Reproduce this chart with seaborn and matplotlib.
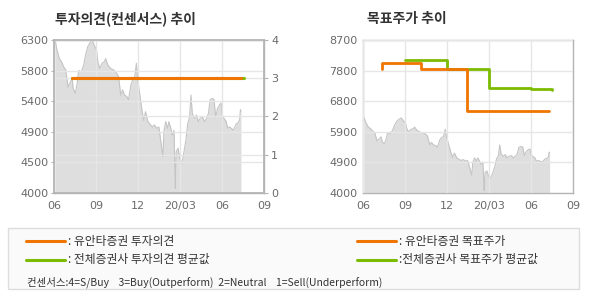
import matplotlib
matplotlib.use("Agg")
import matplotlib.pyplot as plt
from matplotlib.patches import Rectangle
from matplotlib.lines import Line2D
import numpy as np
import pandas as pd
import seaborn as sns

# ---------------- data ----------------
price_dates = [
    "2019-06-03", "2019-06-06", "2019-06-12", "2019-06-17", "2019-06-21", "2019-06-26",
    "2019-07-01", "2019-07-05", "2019-07-10", "2019-07-12", "2019-07-17", "2019-07-21",
    "2019-07-24", "2019-07-30", "2019-08-04", "2019-08-08", "2019-08-13", "2019-08-18",
    "2019-08-23", "2019-08-27", "2019-09-01", "2019-09-04", "2019-09-08", "2019-09-13",
    "2019-09-18", "2019-09-21", "2019-09-26", "2019-10-02", "2019-10-08", "2019-10-13",
    "2019-10-19", "2019-10-24", "2019-10-28", "2019-11-01", "2019-11-06", "2019-11-10",
    "2019-11-15", "2019-11-19", "2019-11-23", "2019-11-27", "2019-11-30", "2019-12-04",
    "2019-12-09", "2019-12-13", "2019-12-17", "2019-12-22", "2019-12-28", "2020-01-01",
    "2020-01-05", "2020-01-11", "2020-01-15", "2020-01-20", "2020-01-24", "2020-01-26",
    "2020-01-30", "2020-02-03", "2020-02-06", "2020-02-10", "2020-02-13", "2020-02-17",
    "2020-02-19", "2020-02-20", "2020-02-22", "2020-02-26", "2020-03-01", "2020-03-04",
    "2020-03-08", "2020-03-14", "2020-03-18", "2020-03-22", "2020-03-25", "2020-03-28",
    "2020-04-02", "2020-04-06", "2020-04-10", "2020-04-14", "2020-04-19", "2020-04-24",
    "2020-04-28", "2020-05-02", "2020-05-06", "2020-05-10", "2020-05-14", "2020-05-18",
    "2020-05-22", "2020-05-26", "2020-05-30", "2020-06-01", "2020-06-05", "2020-06-10",
    "2020-06-13", "2020-06-17", "2020-06-21", "2020-06-25", "2020-06-29", "2020-07-02",
    "2020-07-05", "2020-07-09", "2020-07-11", "2020-07-12",
]
price_values = [
    6300, 6170, 6020, 5970, 5900, 5850,
    5590, 5650, 5720, 5570, 5500, 5650,
    5840, 5820, 5920, 6070, 6200, 6260,
    6300, 6220, 6150, 5970, 5870, 5950,
    5970, 6020, 5920, 5870, 5850, 5820,
    5750, 5470, 5550, 5470, 5450, 5400,
    5620, 5700, 5720, 5950, 5700, 5500,
    5250, 5090, 5220, 5070, 5020, 4990,
    5020, 4970, 4990, 4740, 4540, 4920,
    5070, 4970, 5070, 4970, 4870, 4940,
    4390, 4065, 4620, 4670, 4490, 4440,
    4540, 4790, 5040, 5140, 5470, 5190,
    5120, 5170, 5070, 5120, 5140, 5070,
    5120, 5190, 5400, 5420, 5410, 5140,
    5270, 5320, 5350, 5170, 5120, 5070,
    4970, 4990, 4970, 4940, 4990, 5040,
    5050, 5090, 5250, 5230,
]

# investment opinion (consensus scale 0-4)
op_own_dates = ["2019-07-10", "2020-07-12"]
op_own_values = [3, 3]
op_avg_dates = ["2019-07-10", "2020-07-19"]
op_avg_values = [3, 3]

# target prices (step lines)
tp_own_dates = ["2019-07-11", "2019-07-11", "2019-10-05", "2020-01-13", "2020-07-10"]
tp_own_values = [7800, 8000, 7800, 6500, 6500]
tp_avg_dates = ["2019-09-01", "2019-12-01", "2020-03-01", "2020-06-01", "2020-07-17", "2020-07-17"]
tp_avg_values = [8070, 7800, 7230, 7200, 7200, 7160]

x_ticks = ["2019-06-01", "2019-09-01", "2019-12-01", "2020-03-01", "2020-06-01", "2020-09-01"]
x_tick_labels = ["06", "09", "12", "20/03", "06", "09"]

left_ylim = (4000, 6300)
left_tick_labels = ["4000", "4500", "4900", "5400", "5800", "6300"]
opinion_ticks = [0, 1, 2, 3, 4]
right_ylim = (4000, 8700)
right_tick_labels = ["4000", "4900", "5900", "6800", "7800", "8700"]

title_left = "투자의견(컨센서스) 추이"
title_right = "목표주가 추이"
legend_labels = [": 유안타증권 투자의견", ": 전체증권사 투자의견 평균값",
                 ": 유안타증권 목표주가", ":전체증권사 목표주가 평균값"]
consensus_text = "컨센서스:4=S/Buy    3=Buy(Outperform)  2=Neutral    1=Sell(Underperform)"

# ---------------- style ----------------
sns.set_theme(style="white")
plt.rcParams['font.family'] = ['Noto Sans CJK KR', 'DejaVu Sans']

ORANGE = "#f07400"
GREEN = "#7cbb00"
FILL = "#dedede"
PLINE = "#c4c4c4"
GRID = "#e6e6e6"
SPINE = "#b4b4b4"
TICKC = "#6a6a6a"

price = pd.DataFrame({"date": pd.to_datetime(price_dates), "price": price_values})
op_own = pd.DataFrame({"date": pd.to_datetime(op_own_dates), "v": op_own_values})
op_avg = pd.DataFrame({"date": pd.to_datetime(op_avg_dates), "v": op_avg_values})
tp_own = pd.DataFrame({"date": pd.to_datetime(tp_own_dates), "v": tp_own_values})
tp_avg = pd.DataFrame({"date": pd.to_datetime(tp_avg_dates), "v": tp_avg_values})
xt = pd.to_datetime(x_ticks)

fig = plt.figure(figsize=(5.9, 3.0), dpi=100)
fig.patch.set_facecolor("white")

W, H = 590.0, 300.0
def rect(x0, y0, x1, y1):
    return [x0 / W, 1 - y1 / H, (x1 - x0) / W, (y1 - y0) / H]

axL = fig.add_axes(rect(54.3, 40, 264.3, 192.7))
axR = fig.add_axes(rect(363.3, 40, 573, 192.7))


def style_axes(ax, ylim, labels, grid_y):
    ax.set_facecolor("white")
    ax.fill_between(price["date"], price["price"], ylim[0], color=FILL, lw=0, zorder=1)
    sns.lineplot(data=price, x="date", y="price", ax=ax, color=PLINE, lw=0.8,
                 estimator=None, sort=False, zorder=2)
    ax.set_xlim(xt[0], xt[-1])
    ax.set_ylim(*ylim)
    ax.set_xticks(xt)
    ax.set_xticklabels(x_tick_labels)
    yt = np.linspace(ylim[0], ylim[1], len(labels))
    ax.set_yticks(yt)
    ax.set_yticklabels(labels)
    ax.set_xlabel("")
    ax.set_ylabel("")
    for s in ax.spines.values():
        s.set_color(SPINE)
        s.set_linewidth(1.0)
        s.set_visible(True)
    ax.tick_params(axis="both", colors=TICKC, labelsize=8, length=3, width=0.8,
                   direction="out", pad=2)
    ax.tick_params(axis="x", pad=3, color=SPINE)
    ax.tick_params(axis="y", color=SPINE, length=2)
    ax.xaxis.grid(True, color=GRID, lw=1.0, zorder=0)
    ax.yaxis.grid(grid_y, color=GRID, lw=1.0, zorder=0)
    ax.set_axisbelow(False)
    for lab in ax.get_xticklabels() + ax.get_yticklabels():
        lab.set_family(['DejaVu Sans'])


style_axes(axL, left_ylim, left_tick_labels, False)
style_axes(axR, right_ylim, right_tick_labels, True)

# opinion twin axis
axT = axL.twinx()
axT.set_ylim(0, 4)
axT.set_yticks(opinion_ticks)
axT.set_yticklabels([str(t) for t in opinion_ticks])
axT.yaxis.grid(True, color=GRID, lw=1.0)
axT.set_xlim(xt[0], xt[-1])
for s in axT.spines.values():
    s.set_color(SPINE)
axT.tick_params(axis="y", colors=TICKC, labelsize=8, length=3, width=0.8, pad=2)
axT.tick_params(axis="y", color=SPINE)
for lab in axT.get_yticklabels():
    lab.set_family(['DejaVu Sans'])
sns.lineplot(data=op_avg, x="date", y="v", ax=axT, color=GREEN, lw=2.2,
             estimator=None, sort=False, zorder=3)
sns.lineplot(data=op_own, x="date", y="v", ax=axT, color=ORANGE, lw=2.2,
             estimator=None, sort=False, zorder=4)
axT.set_xlabel("")
axT.set_ylabel("")
axL.set_zorder(1)
axT.set_zorder(2)
axT.patch.set_visible(False)

# target price lines
sns.lineplot(data=tp_avg, x="date", y="v", ax=axR, color=GREEN, lw=2.0,
             estimator=None, sort=False, drawstyle="steps-post", zorder=3)
sns.lineplot(data=tp_own, x="date", y="v", ax=axR, color=ORANGE, lw=2.0,
             estimator=None, sort=False, drawstyle="steps-post", zorder=4)
axR.set_xlabel("")
axR.set_ylabel("")

# titles
fig.text(55 / W, 1 - 19 / H, title_left, fontsize=10, fontweight="bold",
         color="#333333", ha="left", va="center")
fig.text(367 / W, 1 - 19 / H, title_right, fontsize=10, fontweight="bold",
         color="#333333", ha="left", va="center")

# legend box
fig.patches.append(Rectangle((8.3 / W, 1 - 289 / H), (579 - 8.3) / W, (289 - 228.3) / H,
                             transform=fig.transFigure, facecolor="#fafafa",
                             edgecolor="#dddddd", lw=1.0))
rows = [(26, 65, 68, 241, ORANGE, legend_labels[0]),
        (26, 65, 68, 259.5, GREEN, legend_labels[1]),
        (357, 396, 399, 241, ORANGE, legend_labels[2]),
        (357, 396, 399, 259.5, GREEN, legend_labels[3])]
for x0, x1, tx, y, c, lab in rows:
    fig.lines.append(Line2D([x0 / W, x1 / W], [1 - y / H, 1 - y / H],
                            transform=fig.transFigure, color=c, lw=2.2))
    fig.text(tx / W, 1 - y / H, lab, fontsize=8.5, color="#333333",
             ha="left", va="center")
fig.text(27 / W, 1 - 282 / H, consensus_text, fontsize=7.5, color="#333333",
         ha="left", va="center")

fig.savefig("out.png", dpi=100, facecolor="white")
